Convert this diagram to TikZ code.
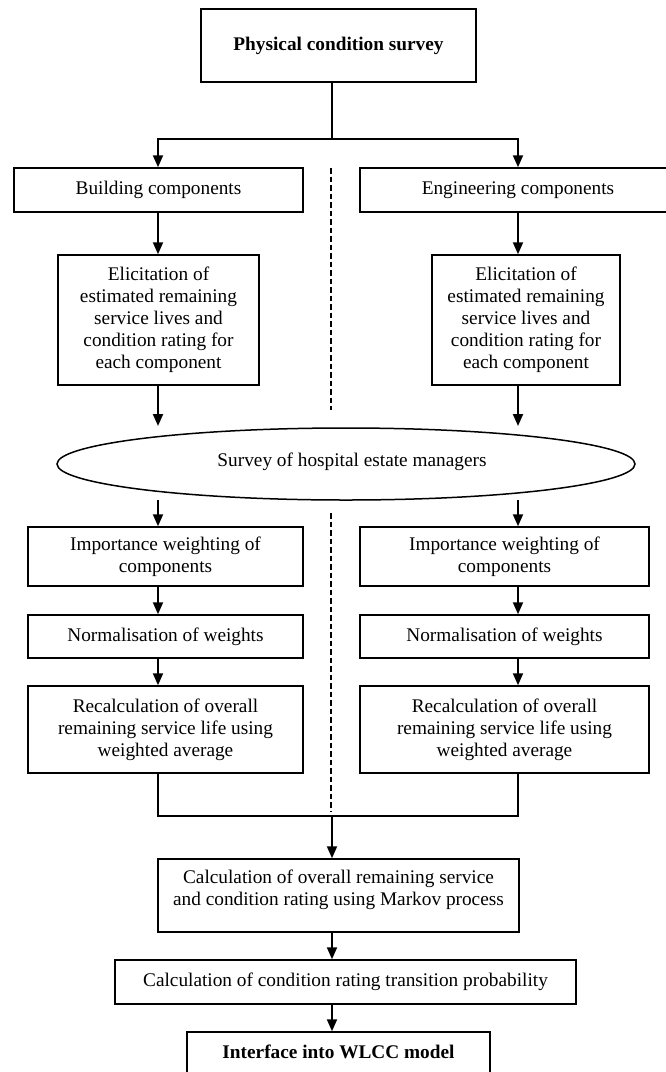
\documentclass[tikz,border=0pt]{standalone}
\usepackage{fontspec}
\setmainfont{Liberation Serif}
\usetikzlibrary{arrows.meta,shapes.geometric}
\newcommand\flowfont{\fontsize{19.3}{22}\selectfont}

\begin{document}
\begin{tikzpicture}[x=1pt,y=-1pt,
  box/.style={draw, line width=1.5pt, inner sep=0pt, align=center, font=\flowfont},
  oval/.style={draw, ellipse, line width=1.5pt, inner sep=0pt},
  txt/.style={inner sep=0pt, align=center, font=\flowfont},
  link/.style={line width=2pt},
  arr/.style={line width=2pt, -{Triangle[width=10pt,length=12pt]}},
  divider/.style={line width=1.5pt, dash pattern=on 5.5pt off 3pt}
]
\useasboundingbox (0,0) rectangle (666,1072);
\clip (0,0) rectangle (666,1072);
\fill[white] (0,0) rectangle (666,1072);

% column axes
\coordinate (xL) at (158,0);
\coordinate (xR) at (518,0);
\coordinate (xC) at (332,0);

% top of the flow
\node[box, minimum width=275, minimum height=73, font=\flowfont\bfseries] (top) at (338.5,45.5) {Physical condition survey};

% two branches
\node[box, minimum width=289, minimum height=44] (build) at (158.5,190) {Building components};
\node[box, minimum width=316, minimum height=44] (eng) at (518,190) {};
\node[txt] (engtxt) at (518,190) {Engineering components};

\node[box, minimum width=201, minimum height=130] (elicL) at (158.5,320)
  {Elicitation of\\estimated remaining\\service lives and\\condition rating for\\each component};
\node[box, minimum width=188, minimum height=130] (elicR) at (526,320)
  {Elicitation of\\estimated remaining\\service lives and\\condition rating for\\each component};

% survey of estate managers
\node[oval, minimum width=578, minimum height=72] (surv) at (346,464) {};
\node[txt] (survtxt) at (352,462) {Survey of hospital estate managers};

\coordinate (aL) at (158,426);
\coordinate (aR) at (518,426);
\coordinate (bL) at (158,500);
\coordinate (bR) at (518,500);

\node[box, minimum width=275, minimum height=59] (impL) at (165.5,556.5) {Importance weighting of\\components};
\node[box, minimum width=289, minimum height=59] (impR) at (504.5,556.5) {Importance weighting of\\components};
\node[box, minimum width=275, minimum height=43] (normL) at (165.5,636.5) {Normalisation of weights};
\node[box, minimum width=289, minimum height=43] (normR) at (504.5,636.5) {Normalisation of weights};
\node[box, minimum width=275, minimum height=87] (recL) at (165.5,729.5)
  {Recalculation of overall\\remaining service life using\\weighted average};
\node[box, minimum width=289, minimum height=87] (recR) at (504.5,729.5)
  {Recalculation of overall\\remaining service life using\\weighted average};

% merged part
\coordinate (merge) at (332,816);
\node[box, minimum width=361, minimum height=73] (markov) at (338.5,895.5) {};
\node[txt] (markovtxt) at (338.5,890)
  {Calculation of overall remaining service\\and condition rating using Markov process};
\node[box, minimum width=461, minimum height=44] (trans) at (345.5,982)
  {Calculation of condition rating transition probability};
\node[box, minimum width=303, minimum height=80] (iface) at (338.5,1072) {};
\node[txt, font=\flowfont\bfseries] (ifacetxt) at (338.5,1052) {Interface into WLCC model};

% connectors
\coordinate (split) at (332,139);
\draw[link] (top.south -| split) -- (split);
\draw[arr] (split) -| (build.north -| xL);
\draw[arr] (split) -| (eng.north -| xR);
\draw[arr] (build.south -| xL) -- (elicL.north -| xL);
\draw[arr] (eng.south -| xR) -- (elicR.north -| xR);
\draw[arr] (elicL.south -| xL) -- (aL);
\draw[arr] (elicR.south -| xR) -- (aR);
\draw[arr] (bL) -- (impL.north -| xL);
\draw[arr] (bR) -- (impR.north -| xR);
\draw[arr] (impL.south -| xL) -- (normL.north -| xL);
\draw[arr] (impR.south -| xR) -- (normR.north -| xR);
\draw[arr] (normL.south -| xL) -- (recL.north -| xL);
\draw[arr] (normR.south -| xR) -- (recR.north -| xR);
\draw[link] (recL.south -| xL) |- (merge) -| (recR.south -| xR);
\draw[arr] (merge) -- (markov.north -| xC);
\draw[arr] (markov.south -| xC) -- (trans.north -| xC);
\draw[arr] (trans.south -| xC) -- (iface.north -| xC);

% dividing line between the two branches
\coordinate (dA) at (331,168);
\coordinate (dB) at (331,410);
\coordinate (dC) at (331,513);
\coordinate (dD) at (331,811);
\draw[divider] (dA) -- (dB);
\draw[divider] (dC) -- (dD);
\end{tikzpicture}
\end{document}
